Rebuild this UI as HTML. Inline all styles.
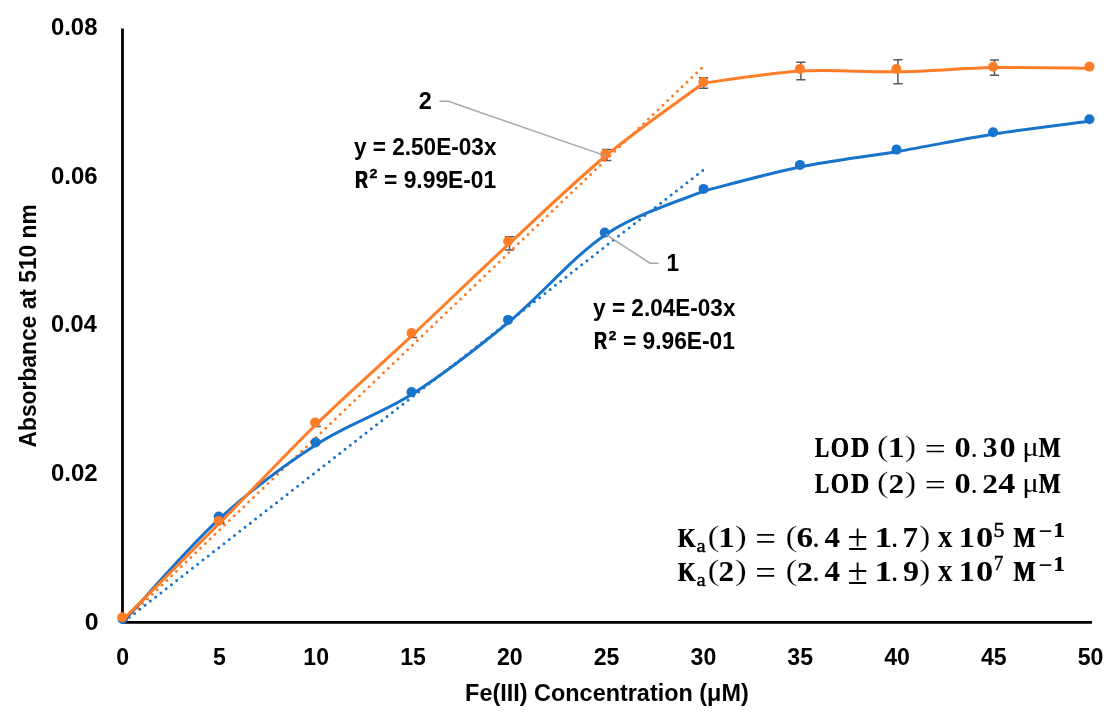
<!DOCTYPE html><html><head><meta charset="utf-8"><style>html,body{margin:0;padding:0;background:#fff;}svg{display:block;will-change:transform;}</style></head><body>
<svg width="1120" height="720" viewBox="0 0 1120 720">
<rect width="1120" height="720" fill="#fff"/>
<path d="M122.5,28.6V623.8M121.1,622.4H1092" stroke="#000" stroke-width="2.8" fill="none"/>
<g stroke="#595959" stroke-width="1.5" fill="none">
<path d="M123.50,618.60V619.60M118.90,618.60h9.2M118.90,619.60h9.2"/>
<path d="M219.90,522.00V523.60M215.30,522.00h9.2M215.30,523.60h9.2"/>
<path d="M316.30,422.00V426.40M311.70,422.00h9.2M311.70,426.40h9.2"/>
<path d="M412.70,332.20V337.40M408.10,332.20h9.2M408.10,337.40h9.2"/>
<path d="M509.50,236.80V250.00M504.90,236.80h9.2M504.90,250.00h9.2"/>
<path d="M606.80,149.60V160.40M602.20,149.60h9.2M602.20,160.40h9.2"/>
<path d="M703.60,77.65V88.35M699.00,77.65h9.2M699.00,88.35h9.2"/>
<path d="M800.90,62.30V79.70M796.30,62.30h9.2M796.30,79.70h9.2"/>
<path d="M897.90,59.85V83.75M893.30,59.85h9.2M893.30,83.75h9.2"/>
<path d="M994.45,59.90V75.30M989.85,59.90h9.2M989.85,75.30h9.2"/>
</g>
<line x1="703.50" y1="169.90" x2="123.00" y2="622.40" stroke="#1873cc" stroke-width="3" stroke-linecap="round" stroke-dasharray="0 6.67" stroke-dashoffset="-1.0"/>
<line x1="703.50" y1="66.28" x2="123.00" y2="622.40" stroke="#ff7d27" stroke-width="3" stroke-linecap="round" stroke-dasharray="0 6.67" stroke-dashoffset="-2.9"/>
<path d="M123.80,620.80 C139.82,603.73 187.73,547.83 219.90,518.40 C252.07,488.97 284.67,464.97 316.80,444.20 C348.93,423.43 380.63,414.22 412.70,393.80 C444.77,373.38 477.00,348.27 509.20,321.70 C541.40,295.13 573.32,256.23 605.90,234.40 C638.48,212.57 688.23,197.98 704.70,190.70 M704.70,190.70 C720.77,186.70 768.93,173.25 801.10,166.70 C833.27,160.15 865.50,156.85 897.70,151.40 C929.90,145.95 962.15,139.07 994.30,134.00 C1026.45,128.93 1074.55,123.17 1090.60,121.00" stroke="#1873cc" stroke-width="3" fill="none" stroke-linejoin="round" stroke-linecap="round"/>
<path d="M123.50,619.10 C139.57,603.05 187.77,555.28 219.90,522.80 C252.03,490.32 284.17,455.53 316.30,424.20 C348.43,392.87 380.50,364.93 412.70,334.80 C444.90,304.67 477.15,273.37 509.50,243.40 C541.85,213.43 574.45,181.73 606.80,155.00 C639.15,128.27 687.47,95.00 703.60,83.00 M703.60,83.00 C719.82,81.00 768.52,72.87 800.90,71.00 C833.28,69.13 865.64,72.37 897.90,71.80 C930.16,71.23 962.33,68.18 994.45,67.60 C1026.57,67.02 1074.57,68.18 1090.60,68.30" stroke="#ff7d27" stroke-width="3" fill="none" stroke-linejoin="round" stroke-linecap="round"/>
<circle cx="122.6" cy="619" r="5" fill="#1873cc"/>
<circle cx="218.7" cy="516.6" r="5" fill="#1873cc"/>
<circle cx="315.6" cy="442.4" r="5" fill="#1873cc"/>
<circle cx="411.5" cy="392" r="5" fill="#1873cc"/>
<circle cx="508" cy="319.9" r="5" fill="#1873cc"/>
<circle cx="604.7" cy="232.6" r="5" fill="#1873cc"/>
<circle cx="703.5" cy="188.9" r="5" fill="#1873cc"/>
<circle cx="799.9" cy="164.9" r="5" fill="#1873cc"/>
<circle cx="896.5" cy="149.6" r="5" fill="#1873cc"/>
<circle cx="993.1" cy="132.2" r="5" fill="#1873cc"/>
<circle cx="1089.4" cy="119.2" r="5" fill="#1873cc"/>
<circle cx="122.3" cy="617.3" r="5" fill="#ff7d27"/>
<circle cx="218.7" cy="521" r="5" fill="#ff7d27"/>
<circle cx="315.1" cy="422.4" r="5" fill="#ff7d27"/>
<circle cx="411.5" cy="333" r="5" fill="#ff7d27"/>
<circle cx="508.1" cy="241.2" r="5" fill="#ff7d27"/>
<circle cx="605.2" cy="154.3" r="5" fill="#ff7d27"/>
<circle cx="703.3" cy="82.1" r="5" fill="#ff7d27"/>
<circle cx="799.9" cy="68.9" r="5" fill="#ff7d27"/>
<circle cx="896.3" cy="69" r="5" fill="#ff7d27"/>
<circle cx="993.1" cy="66.8" r="5" fill="#ff7d27"/>
<circle cx="1089.4" cy="66.6" r="5" fill="#ff7d27"/>
<polyline points="439.5,101.3 448.3,101.3 606.4,156.1" stroke="#a6a6a6" stroke-width="1.5" fill="none"/>
<polyline points="605.9,234.4 650,263.2 658.5,263.2" stroke="#a6a6a6" stroke-width="1.5" fill="none"/>
<text x="50.96" y="35.00" font-family="Liberation Sans" font-weight="bold" font-size="23.1" fill="#000" textLength="46.48" lengthAdjust="spacingAndGlyphs" >0.08</text>
<text x="50.95" y="183.70" font-family="Liberation Sans" font-weight="bold" font-size="23.1" fill="#000" textLength="46.61" lengthAdjust="spacingAndGlyphs" >0.06</text>
<text x="50.97" y="332.40" font-family="Liberation Sans" font-weight="bold" font-size="23.1" fill="#000" textLength="45.86" lengthAdjust="spacingAndGlyphs" >0.04</text>
<text x="50.95" y="481.00" font-family="Liberation Sans" font-weight="bold" font-size="23.1" fill="#000" textLength="46.71" lengthAdjust="spacingAndGlyphs" >0.02</text>
<text x="84.82" y="629.60" font-family="Liberation Sans" font-weight="bold" font-size="23.1" fill="#000" textLength="13.80" lengthAdjust="spacingAndGlyphs" >0</text>
<text x="122.60" y="664.8" text-anchor="middle" font-family="Liberation Sans" font-weight="bold" font-size="23.1">0</text>
<text x="219.40" y="664.8" text-anchor="middle" font-family="Liberation Sans" font-weight="bold" font-size="23.1">5</text>
<text x="316.20" y="664.8" text-anchor="middle" font-family="Liberation Sans" font-weight="bold" font-size="23.1">10</text>
<text x="413.00" y="664.8" text-anchor="middle" font-family="Liberation Sans" font-weight="bold" font-size="23.1">15</text>
<text x="509.80" y="664.8" text-anchor="middle" font-family="Liberation Sans" font-weight="bold" font-size="23.1">20</text>
<text x="606.60" y="664.8" text-anchor="middle" font-family="Liberation Sans" font-weight="bold" font-size="23.1">25</text>
<text x="703.40" y="664.8" text-anchor="middle" font-family="Liberation Sans" font-weight="bold" font-size="23.1">30</text>
<text x="800.20" y="664.8" text-anchor="middle" font-family="Liberation Sans" font-weight="bold" font-size="23.1">35</text>
<text x="897.00" y="664.8" text-anchor="middle" font-family="Liberation Sans" font-weight="bold" font-size="23.1">40</text>
<text x="993.80" y="664.8" text-anchor="middle" font-family="Liberation Sans" font-weight="bold" font-size="23.1">45</text>
<text x="1090.60" y="664.8" text-anchor="middle" font-family="Liberation Sans" font-weight="bold" font-size="23.1">50</text>
<text x="465.13" y="701.00" font-family="Liberation Sans" font-weight="bold" font-size="23.1" fill="#000" textLength="283.63" lengthAdjust="spacingAndGlyphs" >Fe(III) Concentration (μM)</text>
<text transform="rotate(-90)" x="-447.47" y="36.3" font-family="Liberation Sans" font-weight="bold" font-size="23.1" textLength="243.28" lengthAdjust="spacingAndGlyphs">Absorbance at 510 nm</text>
<text x="353.92" y="154.90" font-family="Liberation Sans" font-weight="bold" font-size="23.1" fill="#000" textLength="142.54" lengthAdjust="spacingAndGlyphs" >y = 2.50E-03x</text>
<text transform="translate(354.83,187.60) scale(0.7441,1.0082)" font-family="Liberation Sans" font-weight="bold" font-size="23.5">R</text>
<text transform="translate(355.73,187.60) scale(0.7441,1.0082)" font-family="Liberation Sans" font-weight="bold" font-size="23.5">R</text>
<text transform="translate(369.41,178.10) scale(0.6010,0.5363)" font-family="Liberation Sans" font-weight="bold" font-size="23.5" stroke="#000" stroke-width="0.9">2</text>
<text x="384.05" y="187.60" font-family="Liberation Sans" font-weight="bold" font-size="23.1" fill="#000" textLength="112.18" lengthAdjust="spacingAndGlyphs" >= 9.99E-01</text>
<text x="593.12" y="316.40" font-family="Liberation Sans" font-weight="bold" font-size="23.1" fill="#000" textLength="142.34" lengthAdjust="spacingAndGlyphs" >y = 2.04E-03x</text>
<text transform="translate(593.71,349.00) scale(0.7575,1.0020)" font-family="Liberation Sans" font-weight="bold" font-size="23.5">R</text>
<text transform="translate(594.61,349.00) scale(0.7575,1.0020)" font-family="Liberation Sans" font-weight="bold" font-size="23.5">R</text>
<text transform="translate(608.63,340.00) scale(0.5745,0.5546)" font-family="Liberation Sans" font-weight="bold" font-size="23.5" stroke="#000" stroke-width="0.9">2</text>
<text x="622.96" y="349.00" font-family="Liberation Sans" font-weight="bold" font-size="23.1" fill="#000" textLength="111.98" lengthAdjust="spacingAndGlyphs" >= 9.96E-01</text>
<text x="418.79" y="108.80" font-family="Liberation Sans" font-weight="bold" font-size="23.1" fill="#000" textLength="13.05" lengthAdjust="spacingAndGlyphs" >2</text>
<text x="666.48" y="271.00" font-family="Liberation Sans" font-weight="bold" font-size="23.1" fill="#000" textLength="12.55" lengthAdjust="spacingAndGlyphs" >1</text>
<text transform="translate(814.64,456.90) scale(0.7416,1.0164)" font-family="Liberation Serif" font-weight="bold" font-size="28.7">L</text>
<text transform="translate(815.30,456.90) scale(0.7416,1.0164)" font-family="Liberation Serif" font-weight="bold" font-size="28.7">L</text>
<text transform="translate(830.45,457.11) scale(0.8215,1.0424)" font-family="Liberation Serif" font-weight="bold" font-size="28.7">O</text>
<text transform="translate(830.91,457.11) scale(0.8215,1.0424)" font-family="Liberation Serif" font-weight="bold" font-size="28.7">O</text>
<text transform="translate(850.80,456.84) scale(0.8971,1.0133)" font-family="Liberation Serif" font-weight="bold" font-size="28.7">D</text>
<text transform="translate(851.06,456.84) scale(0.8971,1.0133)" font-family="Liberation Serif" font-weight="bold" font-size="28.7">D</text>
<text transform="translate(876.88,455.61) scale(1.2074,1.0049)" font-family="Liberation Serif" font-weight="normal" font-size="28.7" stroke="#fff" stroke-width="0.25">(</text>
<text transform="translate(887.78,456.90) scale(1.1830,1.0187)" font-family="Liberation Serif" font-weight="bold" font-size="28.7">1</text>
<text transform="translate(904.70,455.61) scale(1.1938,1.0049)" font-family="Liberation Serif" font-weight="normal" font-size="28.7" stroke="#fff" stroke-width="0.25">)</text>
<text transform="translate(924.85,458.79) scale(1.2954,1.0592)" font-family="Liberation Serif" font-weight="normal" font-size="28.7">=</text>
<text transform="translate(954.51,456.72) scale(1.1304,0.9914)" font-family="Liberation Serif" font-weight="bold" font-size="28.7">0</text>
<text transform="translate(972.01,456.65) scale(0.4688,0.6233)" font-family="Liberation Serif" font-weight="bold" font-size="28.7">.</text>
<text transform="translate(972.98,456.65) scale(0.4688,0.6233)" font-family="Liberation Serif" font-weight="bold" font-size="28.7">.</text>
<text transform="translate(982.64,456.92) scale(1.0293,1.0061)" font-family="Liberation Serif" font-weight="bold" font-size="28.7">3</text>
<text transform="translate(999.52,456.72) scale(1.1222,0.9914)" font-family="Liberation Serif" font-weight="bold" font-size="28.7">0</text>
<text transform="translate(1022.19,456.06) scale(1.0771,0.9684)" font-family="Liberation Serif" font-weight="normal" font-size="28.7">μ</text>
<text transform="translate(1038.50,456.70) scale(0.8106,1.0057)" font-family="Liberation Serif" font-weight="bold" font-size="28.7">M</text>
<text transform="translate(1039.01,456.70) scale(0.8106,1.0057)" font-family="Liberation Serif" font-weight="bold" font-size="28.7">M</text>
<text transform="translate(814.64,492.80) scale(0.7416,1.0164)" font-family="Liberation Serif" font-weight="bold" font-size="28.7">L</text>
<text transform="translate(815.30,492.80) scale(0.7416,1.0164)" font-family="Liberation Serif" font-weight="bold" font-size="28.7">L</text>
<text transform="translate(830.45,493.01) scale(0.8215,1.0424)" font-family="Liberation Serif" font-weight="bold" font-size="28.7">O</text>
<text transform="translate(830.91,493.01) scale(0.8215,1.0424)" font-family="Liberation Serif" font-weight="bold" font-size="28.7">O</text>
<text transform="translate(850.80,492.74) scale(0.8971,1.0133)" font-family="Liberation Serif" font-weight="bold" font-size="28.7">D</text>
<text transform="translate(851.06,492.74) scale(0.8971,1.0133)" font-family="Liberation Serif" font-weight="bold" font-size="28.7">D</text>
<text transform="translate(876.88,491.51) scale(1.2074,1.0049)" font-family="Liberation Serif" font-weight="normal" font-size="28.7" stroke="#fff" stroke-width="0.25">(</text>
<text transform="translate(888.48,493.10) scale(1.0914,0.9841)" font-family="Liberation Serif" font-weight="bold" font-size="28.7">2</text>
<text transform="translate(904.70,491.51) scale(1.1938,1.0049)" font-family="Liberation Serif" font-weight="normal" font-size="28.7" stroke="#fff" stroke-width="0.25">)</text>
<text transform="translate(924.85,494.69) scale(1.2954,1.0592)" font-family="Liberation Serif" font-weight="normal" font-size="28.7">=</text>
<text transform="translate(954.51,492.62) scale(1.1304,0.9914)" font-family="Liberation Serif" font-weight="bold" font-size="28.7">0</text>
<text transform="translate(972.01,492.55) scale(0.4688,0.6233)" font-family="Liberation Serif" font-weight="bold" font-size="28.7">.</text>
<text transform="translate(972.98,492.55) scale(0.4688,0.6233)" font-family="Liberation Serif" font-weight="bold" font-size="28.7">.</text>
<text transform="translate(982.28,493.10) scale(1.0914,0.9841)" font-family="Liberation Serif" font-weight="bold" font-size="28.7">2</text>
<text transform="translate(998.13,493.10) scale(1.1918,0.9899)" font-family="Liberation Serif" font-weight="bold" font-size="28.7">4</text>
<text transform="translate(1022.19,491.96) scale(1.0771,0.9684)" font-family="Liberation Serif" font-weight="normal" font-size="28.7">μ</text>
<text transform="translate(1038.50,492.60) scale(0.8106,1.0057)" font-family="Liberation Serif" font-weight="bold" font-size="28.7">M</text>
<text transform="translate(1039.01,492.60) scale(0.8106,1.0057)" font-family="Liberation Serif" font-weight="bold" font-size="28.7">M</text>
<text transform="translate(677.61,547.20) scale(0.7940,0.9844)" font-family="Liberation Serif" font-weight="bold" font-size="28.7">K</text>
<text transform="translate(678.15,547.20) scale(0.7940,0.9844)" font-family="Liberation Serif" font-weight="bold" font-size="28.7">K</text>
<text transform="translate(696.38,552.01) scale(0.7145,0.6765)" font-family="Liberation Serif" font-weight="normal" font-size="28.7" stroke="#000" stroke-width="0.7">a</text>
<text transform="translate(707.43,545.87) scale(1.2481,1.0029)" font-family="Liberation Serif" font-weight="normal" font-size="28.7" stroke="#fff" stroke-width="0.25">(</text>
<text transform="translate(718.37,547.20) scale(1.1451,0.9975)" font-family="Liberation Serif" font-weight="bold" font-size="28.7">1</text>
<text transform="translate(734.73,545.87) scale(1.2617,1.0029)" font-family="Liberation Serif" font-weight="normal" font-size="28.7" stroke="#fff" stroke-width="0.25">)</text>
<text transform="translate(755.17,549.97) scale(1.2804,1.1568)" font-family="Liberation Serif" font-weight="normal" font-size="28.7">=</text>
<text transform="translate(785.44,545.83) scale(1.2345,1.0106)" font-family="Liberation Serif" font-weight="normal" font-size="28.7" stroke="#fff" stroke-width="0.25">(</text>
<text transform="translate(796.56,547.21) scale(1.1574,1.0216)" font-family="Liberation Serif" font-weight="bold" font-size="28.7">6</text>
<text transform="translate(813.60,546.91) scale(0.5572,0.7093)" font-family="Liberation Serif" font-weight="bold" font-size="28.7">.</text>
<text transform="translate(814.40,546.91) scale(0.5572,0.7093)" font-family="Liberation Serif" font-weight="bold" font-size="28.7">.</text>
<text transform="translate(824.58,547.20) scale(1.0801,1.0111)" font-family="Liberation Serif" font-weight="bold" font-size="28.7">4</text>
<text transform="translate(847.57,549.80) scale(1.2879,1.3199)" font-family="Liberation Serif" font-weight="normal" font-size="28.7">±</text>
<text transform="translate(874.45,547.20) scale(1.2398,0.9923)" font-family="Liberation Serif" font-weight="bold" font-size="28.7">1</text>
<text transform="translate(892.34,546.91) scale(0.5218,0.7093)" font-family="Liberation Serif" font-weight="bold" font-size="28.7">.</text>
<text transform="translate(893.21,546.91) scale(0.5218,0.7093)" font-family="Liberation Serif" font-weight="bold" font-size="28.7">.</text>
<text transform="translate(902.54,547.20) scale(1.0741,1.0004)" font-family="Liberation Serif" font-weight="bold" font-size="28.7">7</text>
<text transform="translate(919.32,545.83) scale(1.1667,1.0106)" font-family="Liberation Serif" font-weight="normal" font-size="28.7" stroke="#fff" stroke-width="0.25">)</text>
<text transform="translate(937.99,547.25) scale(1.0047,1.0970)" font-family="Liberation Serif" font-weight="bold" font-size="28.7">x</text>
<text transform="translate(958.67,547.25) scale(1.1215,1.0107)" font-family="Liberation Serif" font-weight="bold" font-size="28.7">1</text>
<text transform="translate(975.93,547.21) scale(1.2044,1.0172)" font-family="Liberation Serif" font-weight="bold" font-size="28.7">0</text>
<text transform="translate(993.44,536.75) scale(0.7568,0.7288)" font-family="Liberation Serif" font-weight="normal" font-size="28.7" stroke="#000" stroke-width="0.8">5</text>
<text transform="translate(1013.36,547.25) scale(0.8041,1.0190)" font-family="Liberation Serif" font-weight="bold" font-size="28.7">M</text>
<text transform="translate(1013.88,547.25) scale(0.8041,1.0190)" font-family="Liberation Serif" font-weight="bold" font-size="28.7">M</text>
<text transform="translate(1038.52,542.07) scale(0.8611,1.1543)" font-family="Liberation Serif" font-weight="normal" font-size="28.7">−</text>
<text transform="translate(1053.21,537.25) scale(0.7793,0.7468)" font-family="Liberation Serif" font-weight="bold" font-size="28.7">1</text>
<text transform="translate(1053.72,537.25) scale(0.7793,0.7468)" font-family="Liberation Serif" font-weight="bold" font-size="28.7">1</text>
<text transform="translate(677.61,581.00) scale(0.7940,0.9844)" font-family="Liberation Serif" font-weight="bold" font-size="28.7">K</text>
<text transform="translate(678.15,581.00) scale(0.7940,0.9844)" font-family="Liberation Serif" font-weight="bold" font-size="28.7">K</text>
<text transform="translate(696.38,585.81) scale(0.7145,0.6765)" font-family="Liberation Serif" font-weight="normal" font-size="28.7" stroke="#000" stroke-width="0.7">a</text>
<text transform="translate(707.43,579.67) scale(1.2481,1.0029)" font-family="Liberation Serif" font-weight="normal" font-size="28.7" stroke="#fff" stroke-width="0.25">(</text>
<text transform="translate(718.49,581.10) scale(1.0830,0.9893)" font-family="Liberation Serif" font-weight="bold" font-size="28.7">2</text>
<text transform="translate(734.73,579.67) scale(1.2617,1.0029)" font-family="Liberation Serif" font-weight="normal" font-size="28.7" stroke="#fff" stroke-width="0.25">)</text>
<text transform="translate(755.17,583.77) scale(1.2804,1.1568)" font-family="Liberation Serif" font-weight="normal" font-size="28.7">=</text>
<text transform="translate(785.44,579.63) scale(1.2345,1.0106)" font-family="Liberation Serif" font-weight="normal" font-size="28.7" stroke="#fff" stroke-width="0.25">(</text>
<text transform="translate(796.74,580.50) scale(1.1250,0.9736)" font-family="Liberation Serif" font-weight="bold" font-size="28.7">2</text>
<text transform="translate(813.60,580.71) scale(0.5572,0.7093)" font-family="Liberation Serif" font-weight="bold" font-size="28.7">.</text>
<text transform="translate(814.40,580.71) scale(0.5572,0.7093)" font-family="Liberation Serif" font-weight="bold" font-size="28.7">.</text>
<text transform="translate(824.58,581.00) scale(1.0801,1.0111)" font-family="Liberation Serif" font-weight="bold" font-size="28.7">4</text>
<text transform="translate(847.57,583.60) scale(1.2879,1.3199)" font-family="Liberation Serif" font-weight="normal" font-size="28.7">±</text>
<text transform="translate(874.45,581.00) scale(1.2398,0.9923)" font-family="Liberation Serif" font-weight="bold" font-size="28.7">1</text>
<text transform="translate(892.34,580.71) scale(0.5218,0.7093)" font-family="Liberation Serif" font-weight="bold" font-size="28.7">.</text>
<text transform="translate(893.21,580.71) scale(0.5218,0.7093)" font-family="Liberation Serif" font-weight="bold" font-size="28.7">.</text>
<text transform="translate(903.02,580.92) scale(1.1175,1.0009)" font-family="Liberation Serif" font-weight="bold" font-size="28.7">9</text>
<text transform="translate(919.32,579.63) scale(1.1667,1.0106)" font-family="Liberation Serif" font-weight="normal" font-size="28.7" stroke="#fff" stroke-width="0.25">)</text>
<text transform="translate(937.99,581.05) scale(1.0047,1.0970)" font-family="Liberation Serif" font-weight="bold" font-size="28.7">x</text>
<text transform="translate(958.67,581.05) scale(1.1215,1.0107)" font-family="Liberation Serif" font-weight="bold" font-size="28.7">1</text>
<text transform="translate(975.93,581.01) scale(1.2044,1.0172)" font-family="Liberation Serif" font-weight="bold" font-size="28.7">0</text>
<text transform="translate(994.08,570.30) scale(0.6448,0.6971)" font-family="Liberation Serif" font-weight="normal" font-size="28.7" stroke="#000" stroke-width="0.8">7</text>
<text transform="translate(1013.36,581.05) scale(0.8041,1.0190)" font-family="Liberation Serif" font-weight="bold" font-size="28.7">M</text>
<text transform="translate(1013.88,581.05) scale(0.8041,1.0190)" font-family="Liberation Serif" font-weight="bold" font-size="28.7">M</text>
<text transform="translate(1038.52,575.87) scale(0.8611,1.1543)" font-family="Liberation Serif" font-weight="normal" font-size="28.7">−</text>
<text transform="translate(1053.21,571.05) scale(0.7793,0.7468)" font-family="Liberation Serif" font-weight="bold" font-size="28.7">1</text>
<text transform="translate(1053.72,571.05) scale(0.7793,0.7468)" font-family="Liberation Serif" font-weight="bold" font-size="28.7">1</text>
</svg></body></html>
